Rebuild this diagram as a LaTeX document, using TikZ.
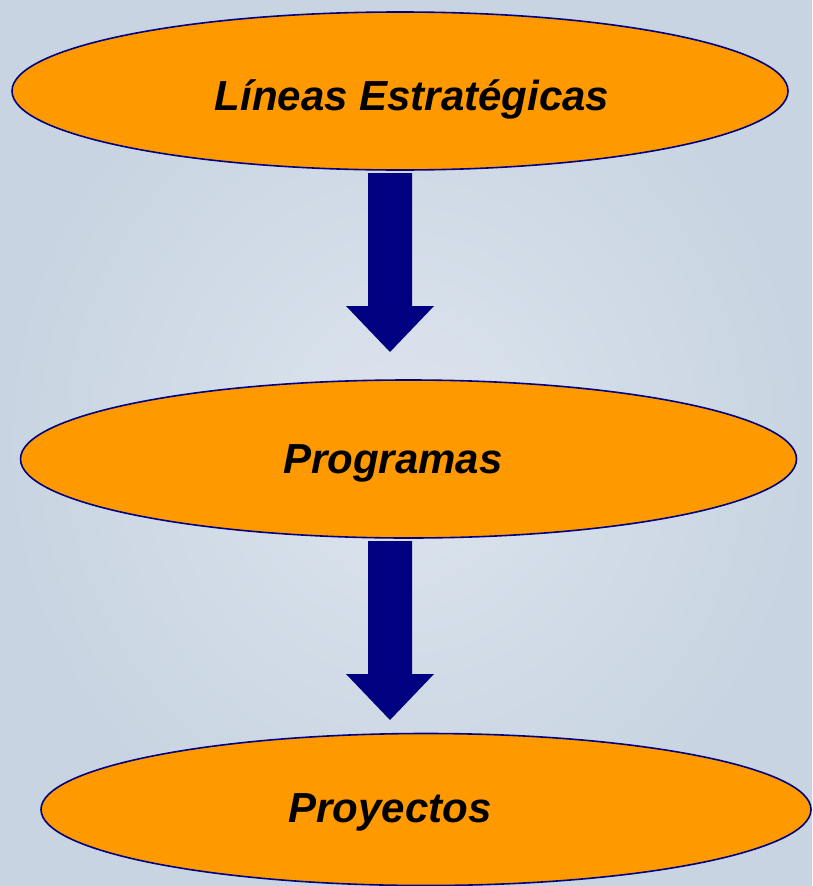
\documentclass[tikz,border=0pt]{standalone}
\usepackage{fontspec}
\setmainfont{Liberation Sans}
\usetikzlibrary{shapes.geometric,calc}
\definecolor{bgmid}{RGB}{220,228,238}
\definecolor{bgout}{RGB}{200,212,225}
\definecolor{orangefill}{RGB}{255,153,0}
\definecolor{navyline}{RGB}{0,0,128}
\tikzset{
  oval/.style={ellipse, draw=navyline, fill=orangefill, line width=1.6pt, inner sep=0pt, outer sep=0pt},
  ovaltext/.style={anchor=base, inner sep=0pt, font=\fontsize{42}{50}\selectfont\bfseries\itshape, text=black},
  blockarrow/.style={fill=navyline, draw=none}
}
\newcommand{\downblock}[2]{%
  \fill[blockarrow] ($(#1)+(-22,0)$) -- ($(#1)+(22,0)$) -- ($(#2)+(22,-46)$) -- ($(#2)+(44,-46)$) -- (#2) -- ($(#2)+(-44,-46)$) -- ($(#2)+(-22,-46)$) -- cycle;}
\begin{document}
\begin{tikzpicture}[x=1pt,y=-1pt]
\useasboundingbox (0,0) rectangle (812,886);
\shade[inner color=bgmid, outer color=bgout] (0,0) rectangle (812,886);
\node[oval, minimum width=776, minimum height=158] (e1) at (400,91) {};
\node[oval, minimum width=776, minimum height=158] (e2) at (408.5,459) {};
\node[oval, minimum width=770, minimum height=152] (e3) at (426,809.5) {};
\node[ovaltext] (t1) at (412,110) {Líneas Estratégicas};
\node[ovaltext] (t2) at (393,473) {Programas};
\node[ovaltext] (t3) at (390,822) {Proyectos};
\coordinate (a1top) at (390,173);
\coordinate (a1tip) at (390,352);
\coordinate (a2top) at (390,541);
\coordinate (a2tip) at (390,720);
\downblock{a1top}{a1tip}
\downblock{a2top}{a2tip}
\end{tikzpicture}
\end{document}
